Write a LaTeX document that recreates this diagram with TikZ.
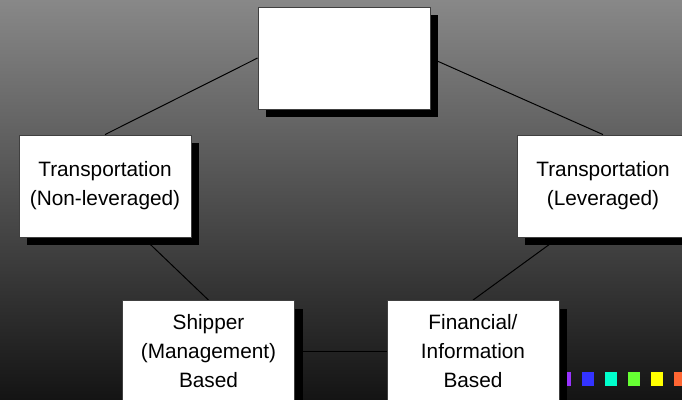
\documentclass[tikz,border=0pt]{standalone}
\usepackage{fontspec}
\setmainfont{Liberation Sans}
\usepackage{xcolor}
\usetikzlibrary{shadows, backgrounds, positioning}

\definecolor{bgtop}{RGB}{136,136,136}
\definecolor{bgbot}{RGB}{20,20,20}
\definecolor{sqpurple}{RGB}{153,51,255}
\definecolor{sqblue}{RGB}{51,51,255}
\definecolor{sqcyan}{RGB}{0,255,204}
\definecolor{sqgreen}{RGB}{102,255,51}
\definecolor{sqyellow}{RGB}{255,255,0}
\definecolor{sqorange}{RGB}{255,102,51}

\begin{document}
\begin{tikzpicture}[b/.style={draw=black!75, line width=0.6pt, fill=white, rectangle,
        minimum width=4.3cm, minimum height=2.55cm, inner sep=0pt, align=center,
        font=\fontsize{14.8}{20.6}\selectfont,
        drop shadow={shadow xshift=0.2cm, shadow yshift=-0.2cm, fill=black, opacity=1}},
      c/.style={draw=black, line width=0.7pt}]
      \useasboundingbox (0,0) rectangle (17.05,9.975);

      \draw node[b] (t0) at (8.6,8.525) {};
      \draw node[b] (t1) at (2.625,5.325) {Transportation\\(Non-leveraged)};
      \draw node[b] (t2) at (15.075,5.325) {Transportation\\(Leveraged)};
      \draw node[b] (t3) at (5.2125,1.1875) {Shipper\\(Management)\\Based};
      \draw node[b] (t4) at (11.825,1.1875) {Financial/\\Information\\Based};

      \begin{pgfonlayer}{background}
      \shade[top color=bgtop, bottom color=bgbot] (0,0) rectangle (17.05,9.975);
      % little squares in the corner
      \foreach \c [count=\i from 0] in {sqpurple, sqblue, sqcyan, sqgreen, sqyellow, sqorange}
        \fill[\c] ({13.975+0.575*\i},0.325) rectangle ++(0.3,0.35);
      \draw[c] (t0.west) -- (t1.north);
      \draw[c] (t0.east) -- (t2.north);
      \draw[c] ([xshift=0.95cm]t1.south) -- (t3.north);
      \draw[c] ([xshift=-1.1cm]t2.south) -- (t4.north);
      \draw[c] (t3.east) -- (t4.west);
      \end{pgfonlayer}
    \end{tikzpicture}
\end{document}
